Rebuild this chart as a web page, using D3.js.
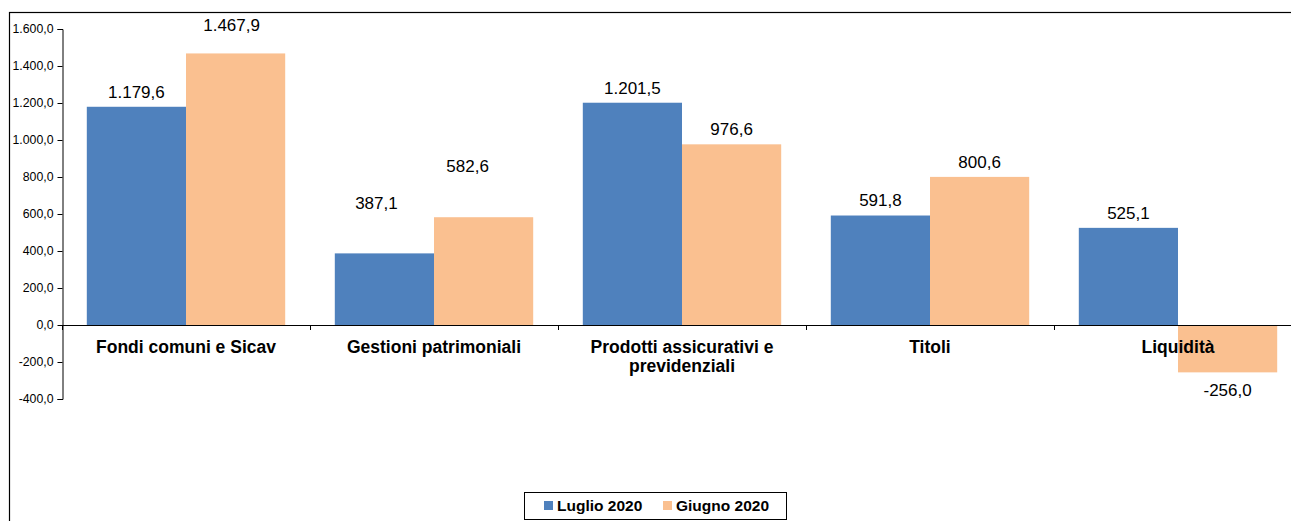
<!DOCTYPE html>
<html lang="it">
<head>
<meta charset="UTF-8">
<title>Flussi Luglio / Giugno 2020</title>
<script src="https://d3js.org/d3.v7.min.js"></script>
<style>
    body { margin: 0; background: #fff; }
    svg { display: block; font-family: "Liberation Sans", Arial, sans-serif; }
</style>
</head>
<body>
<script>
// chart data
var categories = ['Fondi comuni e Sicav', 'Gestioni patrimoniali', 'Prodotti assicurativi e|previdenziali', 'Titoli', 'Liquidità'];
var seriesNames = ['Luglio 2020', 'Giugno 2020'];
var luglio = [1179.6, 387.1, 1201.5, 591.8, 525.1];
var giugno = [1467.9, 582.6, 976.6, 800.6, -256.0];
var yTicks = [-400, -200, 0, 200, 400, 600, 800, 1000, 1200, 1400, 1600];

// hand nudges of the data labels (as in the original), [dx, dy] in px
var luglioNudge = [[0, 0], [-8, -35], [0, 0], [0, 0], [0, 0]];
var giugnoNudge = [[-4, -13], [-16, -36], [0, 0], [0, 0], [0, 0]];

var width = 1291, height = 521;
var colors = { 'Luglio 2020': '#4f81bd', 'Giugno 2020': '#fac090' };

var it = d3.formatLocale({ decimal: ',', thousands: '.', grouping: [3], currency: ['', ' €'], minus: '-' });
var fmt = it.format(',.1f');

var svg = d3.select('body').append('svg')
    .attr('width', width)
    .attr('height', height);

// outer chart frame (runs off the right and bottom edge)
svg.append('rect')
    .attr('x', 9.5).attr('y', 12.5)
    .attr('width', 1400).attr('height', 600)
    .attr('fill', 'none')
    .attr('stroke', '#000')
    .attr('stroke-width', 1.2);

var x0 = d3.scaleBand()
    .domain(categories)
    .range([62, 62 + 5 * 248]);

var x1 = d3.scaleBand()
    .domain(seriesNames)
    .range([0, x0.bandwidth()])
    .paddingOuter(0.25);

var y = d3.scaleLinear()
    .domain([-400, 1600])
    .range([399, 29]);

var rows = categories.map(function(c, i) {
    return [
        { cat: c, s: 'Luglio 2020', v: luglio[i], nudge: luglioNudge[i] },
        { cat: c, s: 'Giugno 2020', v: giugno[i], nudge: giugnoNudge[i] }
    ];
});
var flat = [].concat.apply([], rows);

// bars
svg.append('g').selectAll('rect')
    .data(flat)
    .enter().append('rect')
    .attr('x', d => x0(d.cat) + x1(d.s))
    .attr('y', d => y(Math.max(0, d.v)))
    .attr('width', x1.bandwidth())
    .attr('height', d => Math.abs(y(d.v) - y(0)))
    .attr('fill', d => colors[d.s]);

// y axis
var yAxis = d3.axisLeft(y)
    .tickValues(yTicks)
    .tickFormat(fmt)
    .tickSize(5)
    .tickPadding(4);

var gy = svg.append('g')
    .attr('transform', 'translate(62.5,0)')
    .call(yAxis);
gy.select('.domain').attr('stroke', '#000').attr('stroke-width', 1);
gy.selectAll('.tick line').attr('stroke', '#000');
gy.selectAll('.tick text')
    .attr('fill', '#000')
    .style('font-size', '12.3px')
    .style('font-family', '"Liberation Sans", Arial, sans-serif');

// x axis at zero, with tick marks between categories
var xEdges = categories.map(c => x0(c)).concat([x0.range()[1]]);
var gx = svg.append('g');
gx.append('line')
    .attr('x1', 62).attr('x2', x0.range()[1])
    .attr('y1', Math.round(y(0)) + 0.5).attr('y2', Math.round(y(0)) + 0.5)
    .attr('stroke', '#000');
gx.selectAll('line.sep')
    .data(xEdges)
    .enter().append('line')
    .attr('class', 'sep')
    .attr('x1', d => Math.round(d) + 0.5).attr('x2', d => Math.round(d) + 0.5)
    .attr('y1', y(0)).attr('y2', y(0) + 5)
    .attr('stroke', '#000');

// category labels
var catText = svg.append('g').selectAll('text')
    .data(categories)
    .enter().append('text')
    .attr('x', d => x0(d) + x0.bandwidth() / 2)
    .attr('y', 353)
    .attr('text-anchor', 'middle')
    .style('font-size', '17.5px')
    .style('font-weight', 'bold')
    .attr('fill', '#000');
catText.each(function(d) {
    var parts = d.split('|');
    var t = d3.select(this);
    parts.forEach(function(p, i) {
        t.append('tspan')
            .attr('x', x0(d) + x0.bandwidth() / 2)
            .attr('dy', i === 0 ? 0 : 19)
            .text(p);
    });
});

// value labels
svg.append('g').selectAll('text')
    .data(flat)
    .enter().append('text')
    .attr('x', d => x0(d.cat) + x1(d.s) + x1.bandwidth() / 2 + d.nudge[0])
    .attr('y', d => (d.v >= 0 ? y(d.v) - 15 : y(d.v) + 18) + d.nudge[1])
    .attr('dy', '0.35em')
    .attr('text-anchor', 'middle')
    .style('font-size', '17px')
    .attr('fill', '#000')
    .text(d => fmt(d.v));

// legend
var legend = svg.append('g');
legend.append('rect')
    .attr('x', 524.5).attr('y', 492.5)
    .attr('width', 262).attr('height', 27)
    .attr('fill', '#fff')
    .attr('stroke', '#000')
    .attr('stroke-width', 1);
var legendX = [544, 663];
seriesNames.forEach(function(s, i) {
    legend.append('rect')
        .attr('x', legendX[i]).attr('y', 501)
        .attr('width', 9).attr('height', 9)
        .attr('fill', colors[s]);
    legend.append('text')
        .attr('x', legendX[i] + 13).attr('y', 511)
        .style('font-size', '15.5px')
        .style('font-weight', 'bold')
        .attr('fill', '#000')
        .text(s);
});
</script>
</body>
</html>
